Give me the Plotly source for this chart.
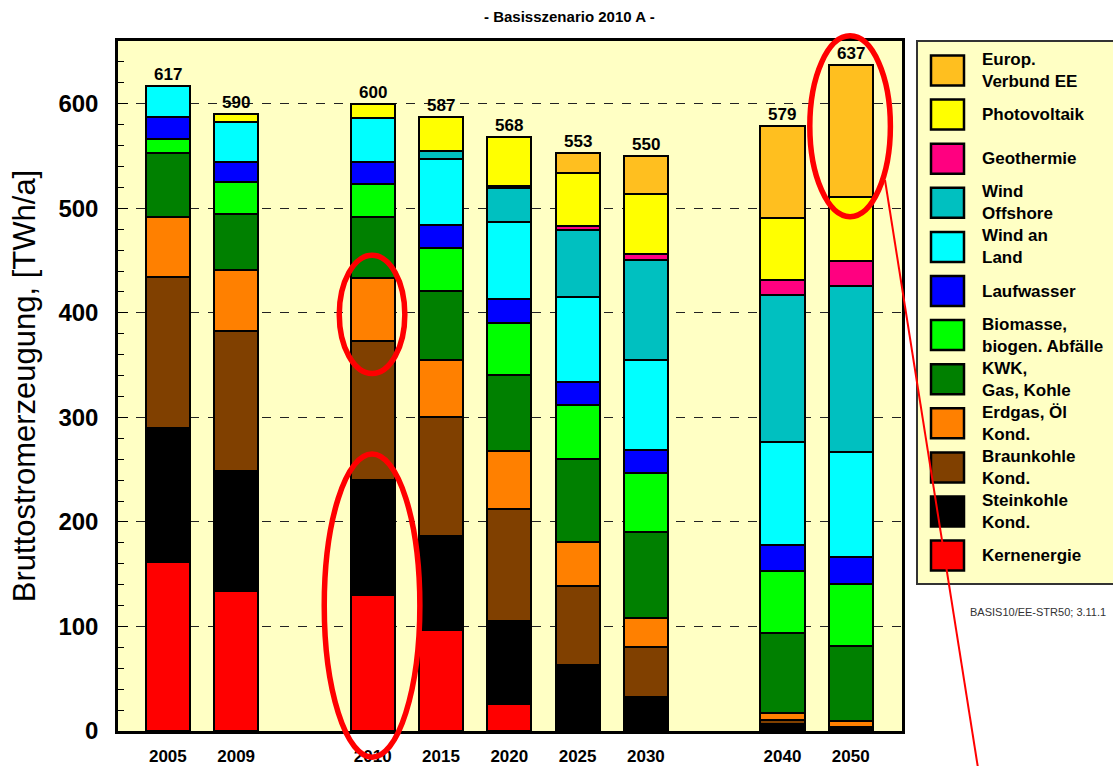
import plotly.graph_objects as go

# ---------------- data ----------------
years = ["2005", "2009", "2010", "2015", "2020", "2025", "2030", "2040", "2050"]
slots = [0, 1, 3, 4, 5, 6, 7, 9, 10]   # category positions (gaps between periods)

series_names = ["Kernenergie", "Steinkohle Kond.", "Braunkohle Kond.", "Erdgas, Öl Kond.",
                "KWK, Gas, Kohle", "Biomasse, biogen. Abfälle", "Laufwasser", "Wind an Land",
                "Wind Offshore", "Geothermie", "Photovoltaik", "Europ. Verbund EE"]
legend_labels = ["Kernenergie", "Steinkohle<br>Kond.", "Braunkohle<br>Kond.", "Erdgas, Öl<br>Kond.",
                 "KWK,<br>Gas, Kohle", "Biomasse,<br>biogen. Abfälle", "Laufwasser", "Wind an<br>Land",
                 "Wind<br>Offshore", "Geothermie", "Photovoltaik", "Europ.<br>Verbund EE"]
colors = ["#FF0000", "#000000", "#804000", "#FF8000", "#008000", "#00FF00", "#0000FF",
          "#00FFFF", "#00C0C0", "#FF0080", "#FFFF00", "#FFBF1F"]

kern     = [162, 134, 130,  97,  26,   0,   0,   0,   0]
stein    = [128, 115, 110,  90,  79,  63,  33,   7,   4]
braun    = [144, 134, 133, 113, 107,  76,  47,   4,   0]
erdgas   = [ 58,  58,  60,  55,  56,  42,  28,   6,   6]
kwk      = [ 61,  54,  59,  66,  73,  79,  82,  77,  71]
bio      = [ 13,  30,  31,  41,  49,  52,  57,  59,  60]
lauf     = [ 21,  19,  21,  22,  23,  22,  22,  25,  25]
windland = [ 30,  39,  42,  63,  74,  81,  86,  98, 101]
offshore = [  0,   0,   0,   8,  32,  64,  96, 141, 159]
geo      = [  0,   0,   0,   0,   2,   4,   5,  14,  24]
pv       = [  0,   7,  14,  32,  47,  51,  58,  60,  61]
europ    = [  0,   0,   0,   0,   0,  19,  36,  88, 126]

series_values = [kern, stein, braun, erdgas, kwk, bio, lauf, windland, offshore, geo, pv, europ]

y_ticks = [0, 100, 200, 300, 400, 500, 600]
title_text = "- Basisszenario 2010 A -"
y_title = "Bruttostromerzeugung, [TWh/a]"
source_text = "BASIS10/EE-STR50; 3.11.1"

# ---------------- layout geometry ----------------
W, H = 1113, 766
L, R, T, B = 118, 902, 41, 731
XR = [-0.73, 10.75]
YR = [0, 660]
FONT = "Arial, Liberation Sans, sans-serif"


def xp(px):
    return (px - L) / (R - L)


def yp(py):
    return (B - py) / (B - T)


def dx(x):
    return (x - XR[0]) / (XR[1] - XR[0])


def dy(y):
    return (y - YR[0]) / (YR[1] - YR[0])


fig = go.Figure()
for name, vals, col in zip(series_names, series_values, colors):
    fig.add_trace(go.Bar(
        x=slots, y=vals, name=name, width=0.645,
        marker=dict(color=col, line=dict(color="black", width=2.2)),
        showlegend=False,
    ))

totals = [sum(v[i] for v in series_values) for i in range(len(years))]
annotations = []
for s, t in zip(slots, totals):
    annotations.append(dict(x=s, y=t, xref="x", yref="y", text=str(t), showarrow=False,
                            yanchor="bottom", yshift=0,
                            font=dict(family=FONT, size=17, color="black", weight="bold")))

# title
annotations.append(dict(x=xp(569), y=yp(17), xref="paper", yref="paper", text=title_text,
                        showarrow=False, xanchor="center", yanchor="middle",
                        font=dict(family=FONT, size=15, color="black", weight="bold")))
# source text
annotations.append(dict(x=xp(968), y=yp(612), xref="paper", yref="paper", text=source_text,
                        showarrow=False, xanchor="left", yanchor="middle",
                        font=dict(family=FONT, size=11, color="#333333")))

shapes = []
# legend box
shapes.append(dict(type="rect", xref="paper", yref="paper", x0=xp(917), x1=xp(1125),
                   y0=yp(584), y1=yp(41), fillcolor="#FFFFC4",
                   line=dict(color="#333333", width=2), layer="below"))
for i in range(len(series_names)):
    k = len(series_names) - 1 - i
    cy = 70.5 + i * 44.1
    shapes.append(dict(type="rect", xref="paper", yref="paper", x0=xp(931), x1=xp(964),
                       y0=yp(cy + 15), y1=yp(cy - 15), fillcolor=colors[k],
                       line=dict(color="black", width=2.5)))
    annotations.append(dict(x=xp(980), y=yp(cy), xref="paper", yref="paper",
                            text=legend_labels[k], showarrow=False, xanchor="left",
                            yanchor="middle", align="left",
                            font=dict(family=FONT, size=17, color="black", weight="bold")))

# red highlight ellipses and pointer line
red = "#FF0000"
for (x0, x1, y0, y1) in [(2.51, 3.47, 342, 455), (2.29, 3.69, -25, 265), (9.40, 10.58, 492, 665)]:
    shapes.append(dict(type="circle", xref="paper", yref="paper",
                       x0=dx(x0), x1=dx(x1), y0=dy(y0), y1=dy(y1),
                       line=dict(color=red, width=5.5), layer="above"))
shapes.append(dict(type="line", xref="paper", yref="paper", x0=xp(885), y0=yp(180),
                   x1=xp(978), y1=yp(768), line=dict(color=red, width=2), layer="above"))

fig.update_layout(
    width=W, height=H,
    margin=dict(l=L, r=W - R, t=T, b=H - B, autoexpand=False),
    paper_bgcolor="white", plot_bgcolor="#FFFFC4",
    barmode="stack", bargap=0,
    font=dict(family=FONT, color="black"),
    annotations=annotations, shapes=shapes,
    xaxis=dict(range=XR, tickmode="array", tickvals=slots, ticktext=years,
               showgrid=False, zeroline=False, ticks="", showline=True, linecolor="black",
               linewidth=3, mirror=True, ticklabelstandoff=8, automargin=False,
               tickfont=dict(family=FONT, size=17, color="black", weight="bold")),
    yaxis=dict(range=YR, tickmode="array", tickvals=y_ticks, showgrid=True,
               gridcolor="#222222", griddash="dash", gridwidth=1, zeroline=False,
               showline=True, linecolor="black", linewidth=2.5, mirror=True,
               ticks="inside", ticklen=10, tickcolor="black", tickwidth=1,
               ticklabelstandoff=12, automargin=False,
               minor=dict(dtick=20, tick0=0, ticks="inside", ticklen=6, tickcolor="black",
                          tickwidth=1, showgrid=False),
               tickfont=dict(family=FONT, size=24, color="black", weight="bold"),
               title=dict(text=y_title, standoff=14,
                          font=dict(family=FONT, size=31, color="black"))),
)

fig.write_html("out.html", config={"displayModeBar": False},
               post_script="document.body.style.margin='0';document.body.style.overflow='hidden';")
